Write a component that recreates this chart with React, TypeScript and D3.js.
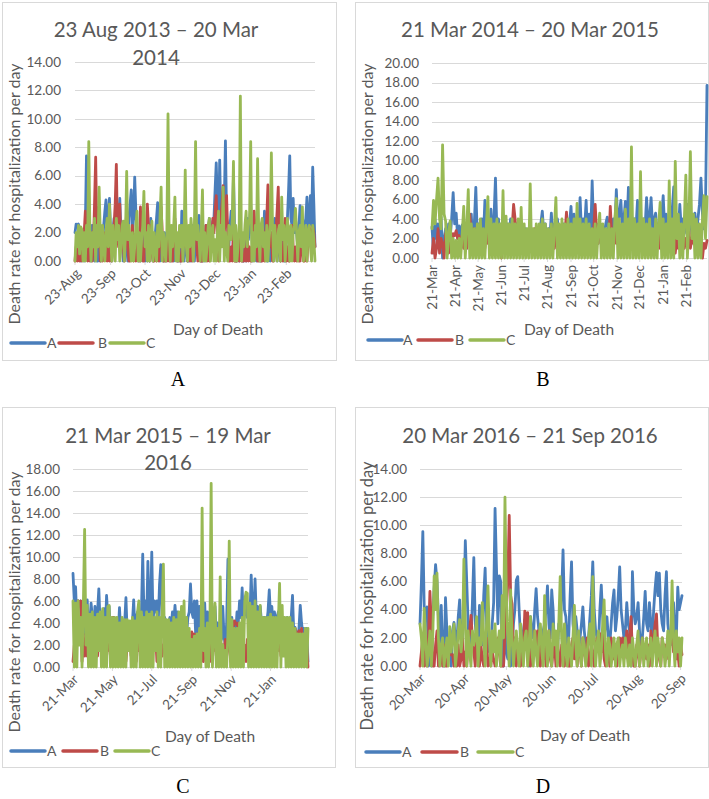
import React from "react";
import * as d3 from "d3";

const SERIES = ["A", "B", "C"];
const COLORS = ["#4A7EBB", "#BE4B48", "#98B954"];
const Y_TITLE = "Death rate for hospitalization per day";
const X_TITLE = "Day of Death";

// ---------- Panel A (daily values) ----------
const A_TITLE = ["23 Aug 2013 – 20 Mar", "2014"];
const A_DOMAIN = ["2013-08-23", "2014-03-20"];
const A_STEP_DAYS = 1;
const A_TICKS = ["2013-08-23", "2013-09-23", "2013-10-23", "2013-11-23", "2013-12-23", "2014-01-23", "2014-02-23"];
const A_YMAX = 14;
const A_BLUE = [
  2.0, 2.6, 2.4, 2.6, 2.2, 0, 2.0, 1.5, 0, 2.5,
  7.4, 3.0, 0.5, 2.5, 0, 2.5, 1.0, 0, 1.0, 0,
  0, 1.5, 0, 2.0, 1.0, 2.5, 3.5, 4.3, 2.0, 3.0,
  4.4, 2.0, 0, 2.0, 3.0, 1.0, 3.8, 2.0, 3.0, 4.4,
  2.0, 1.5, 0, 2.0, 2.8, 1.0, 0, 3.0, 4.0, 5.0,
  2.0, 3.0, 5.9, 3.5, 2.0, 0, 1.5, 0, 1.0, 2.5,
  2.5, 0, 1.0, 0, 2.0, 0, 3.0, 1.5, 0, 1.5,
  2.0, 3.0, 4.1, 2.0, 0, 2.0, 1.0, 0, 2.0, 0,
  1.0, 3.0, 1.5, 0, 1.0, 2.0, 0, 2.8, 1.0, 0,
  0, 2.0, 0, 3.5, 1.5, 0, 2.0, 1.0, 0, 0,
  1.5, 0, 2.5, 1.0, 0, 2.0, 1.0, 2.5, 3.2, 1.0,
  0, 0, 1.5, 0, 2.5, 1.0, 2.0, 3.0, 1.5, 2.0,
  2.8, 3.0, 5.0, 6.9, 4.0, 2.0, 7.1, 3.0, 2.0, 3.0,
  4.0, 8.45, 3.0, 2.5, 1.0, 2.5, 3.5, 2.0, 6.0, 2.0,
  0, 0, 1.5, 0, 2.0, 1.0, 0, 0, 1.5, 0,
  3.0, 1.5, 2.5, 3.9, 2.0, 0, 1.0, 2.0, 0, 2.5,
  1.0, 0, 0, 2.0, 1.0, 3.5, 1.5, 0, 0, 1.5,
  0, 2.0, 1.0, 2.5, 3.0, 1.5, 0, 1.0, 2.0, 0,
  2.5, 1.0, 0, 0, 1.5, 3.0, 5.0, 7.4, 3.0, 2.5,
  4.4, 2.0, 3.0, 2.0, 1.0, 2.5, 3.9, 2.0, 1.5, 2.0,
  2.5, 3.0, 4.5, 2.0, 3.0, 4.6, 2.5, 6.6, 4.0, 1.0,
];
const A_RED = [
  0, 1.0, 0, 1.5, 0, 2.0, 0, 1.0, 2.0, 3.5,
  1.0, 0, 3.5, 0, 2.0, 0, 1.0, 4.0, 7.3, 2.0,
  1.0, 3.8, 0, 1.0, 0, 2.0, 1.0, 2.0, 0, 1.0,
  0, 1.5, 0, 1.5, 2.5, 4.0, 6.8, 2.0, 1.0, 4.0,
  1.0, 2.0, 1.0, 0, 2.0, 3.5, 1.0, 0, 0, 1.5,
  2.5, 0, 1.0, 0, 1.0, 2.0, 0, 3.8, 1.0, 0,
  0, 2.0, 1.0, 4.0, 2.5, 0, 2.5, 1.0, 0, 0,
  1.5, 0, 2.0, 0, 1.5, 3.8, 2.0, 0, 0, 1.0,
  0, 2.5, 0, 1.0, 0, 0, 2.0, 3.0, 1.0, 0,
  1.5, 0, 0, 0, 2.0, 1.0, 3.5, 2.0, 0, 2.0,
  0, 1.0, 0, 1.5, 2.0, 3.2, 1.0, 0, 1.0, 0,
  0, 0, 2.0, 1.0, 2.5, 0, 1.0, 0, 2.0, 1.0,
  3.0, 2.0, 3.5, 4.6, 2.0, 0, 1.0, 3.0, 4.0, 5.3,
  2.0, 3.0, 4.6, 2.0, 0, 0, 1.0, 0, 2.5, 0,
  0, 0, 1.0, 0, 3.0, 0, 0, 0, 1.0, 0,
  2.0, 0, 1.0, 0, 0, 1.0, 3.5, 2.0, 1.0, 0,
  0, 1.0, 0, 0, 2.0, 0, 2.0, 3.0, 5.35, 2.0,
  1.0, 2.0, 0, 0, 1.0, 2.0, 3.5, 5.2, 1.0, 0,
  1.0, 0, 2.0, 3.0, 0, 1.0, 0, 0, 2.0, 2.5,
  1.0, 0, 1.0, 0, 1.5, 0, 0, 1.0, 2.0, 0,
  0, 1.0, 0, 1.5, 2.4, 2.0, 1.0, 2.4, 2.0, 1.0,
];
const A_GREEN = [
  0, 2.0, 1.0, 2.5, 0.5, 2.4, 2.2, 0, 2.0, 0,
  2.5, 1.0, 8.4, 2.0, 0, 2.0, 1.0, 3.0, 0, 2.5,
  1.0, 5.2, 2.0, 0, 2.5, 1.0, 0, 2.0, 3.0, 1.0,
  4.0, 2.0, 0, 2.5, 1.0, 0, 3.0, 1.5, 2.5, 0,
  1.0, 2.5, 2.8, 0, 2.0, 6.3, 1.5, 2.5, 1.5, 0,
  2.0, 0, 1.0, 2.5, 3.5, 0, 2.0, 0, 1.5, 2.5,
  4.9, 1.0, 2.0, 0, 2.5, 0, 1.5, 2.8, 0, 2.0,
  1.0, 0, 2.5, 1.0, 3.0, 5.2, 0, 2.0, 1.0, 0,
  2.0, 10.35, 2.0, 0, 2.5, 1.0, 2.5, 4.5, 0, 2.0,
  0, 2.5, 1.0, 2.5, 0, 2.0, 6.4, 1.0, 0, 2.5,
  1.0, 3.0, 2.0, 0, 2.5, 8.4, 1.5, 2.5, 1.5, 0,
  2.0, 5.0, 0, 2.0, 0, 1.0, 2.5, 3.0, 0, 2.0,
  2.5, 0, 1.5, 0, 2.0, 3.5, 0, 2.5, 1.0, 5.2,
  0, 2.0, 1.0, 0, 2.5, 2.0, 1.5, 3.0, 7.0, 0,
  2.5, 0, 1.0, 2.5, 11.6, 0, 2.0, 1.0, 2.5, 3.5,
  1.0, 2.5, 3.0, 8.4, 0, 2.0, 0, 2.5, 1.0, 7.2,
  2.0, 0, 2.5, 3.0, 1.0, 2.0, 0, 2.5, 0, 1.5,
  2.5, 7.6, 2.5, 0, 2.5, 1.0, 0, 2.0, 2.5, 0,
  4.5, 1.5, 2.5, 0, 1.5, 3.0, 2.0, 0, 2.5, 0,
  2.0, 2.5, 3.7, 2.0, 0, 2.0, 2.5, 1.0, 3.8, 0,
  1.0, 2.5, 0, 2.0, 2.5, 1.0, 0, 2.5, 1.5, 0,
];

// ---------- Panel B (every 2nd day) ----------
const B_TITLE = ["21 Mar 2014 – 20 Mar 2015"];
const B_DOMAIN = ["2014-03-21", "2015-03-20"];
const B_STEP_DAYS = 2;
const B_TICKS = ["2014-03-21", "2014-04-21", "2014-05-21", "2014-06-21", "2014-07-21", "2014-08-21", "2014-09-21", "2014-10-21", "2014-11-21", "2014-12-21", "2015-01-21", "2015-02-21"];
const B_YMAX = 20;
const B_BLUE = [
  3.2, 0.5, 4.0, 2.0, 3.5, 1.0, 4.2, 0, 2.0, 3.0,
  1.0, 3.5, 2.0, 4.0, 6.7, 3.5, 4.6, 2.0, 3.3, 1.5,
  3.4, 2.0, 3.0, 1.0, 3.5, 2.0, 4.5, 1.0, 3.5, 7.25,
  2.0, 3.5, 1.0, 4.0, 2.0, 5.9, 3.0, 4.0, 1.5, 5.0,
  2.0, 4.0, 8.2, 2.5, 4.0, 1.0, 3.5, 2.0, 4.0, 1.5,
  3.5, 2.0, 4.0, 1.0, 3.0, 2.0, 3.5, 1.0, 3.0, 2.0,
  2.5, 1.0, 3.0, 1.5, 2.5, 1.0, 2.0, 2.6, 1.5, 2.5,
  3.0, 2.0, 3.5, 4.8, 2.5, 3.5, 1.0, 3.0, 2.0, 4.6,
  2.0, 3.5, 1.5, 4.0, 2.0, 3.0, 1.0, 3.5, 2.0, 3.0,
  1.5, 3.5, 5.3, 2.0, 4.5, 3.0, 4.0, 2.5, 6.2, 2.5,
  4.0, 3.0, 5.9, 2.0, 4.5, 2.0, 7.9, 3.0, 2.0, 3.5,
  1.5, 3.2, 2.0, 3.0, 2.5, 3.5, 4.2, 2.5, 3.5, 2.0,
  4.0, 3.0, 7.0, 3.5, 4.5, 5.9, 3.0, 4.0, 5.8, 3.0,
  7.25, 3.0, 4.5, 2.5, 4.0, 3.0, 5.9, 3.0, 4.5, 2.5,
  4.0, 3.0, 6.2, 3.5, 4.0, 6.2, 3.0, 4.0, 4.6, 2.5,
  3.5, 2.5, 4.0, 6.4, 3.0, 4.5, 2.5, 4.0, 3.0, 5.0,
  7.3, 3.0, 4.0, 2.5, 5.5, 3.0, 4.0, 2.5, 3.5, 5.5,
  3.0, 4.0, 2.5, 3.5, 4.6, 2.5, 4.0, 5.5, 8.2, 4.5,
  3.0, 5.0, 17.7,
];
const B_RED = [
  0.5, 2.0, 0, 1.0, 3.0, 0.5, 2.0, 1.5, 0, 2.5,
  1.5, 0.5, 2.0, 1.0, 2.5, 2.3, 2.8, 2.0, 2.3, 1.0,
  2.2, 1.0, 2.0, 1.0, 3.5, 4.5, 2.0, 1.0, 3.0, 1.0,
  2.0, 1.0, 3.5, 0.5, 2.0, 1.0, 2.8, 1.5, 2.0, 1.0,
  2.5, 1.0, 2.0, 0.5, 3.0, 1.0, 0, 2.0, 1.5, 0.5,
  2.5, 1.0, 2.0, 3.0, 5.5, 4.0, 2.0, 1.0, 3.0, 1.0,
  2.5, 1.5, 2.0, 1.0, 2.5, 1.0, 2.0, 1.5, 3.0, 1.0,
  2.0, 1.5, 2.5, 1.0, 3.0, 2.0, 1.5, 2.5, 1.0, 3.0,
  2.0, 1.0, 2.5, 1.5, 3.0, 1.0, 2.0, 1.5, 2.5, 4.7,
  2.0, 1.0, 3.0, 1.5, 2.5, 1.0, 2.0, 3.0, 1.0, 2.5,
  2.0, 1.5, 3.0, 1.0, 2.5, 1.5, 2.0, 3.0, 5.5, 2.5,
  1.5, 3.0, 2.0, 1.0, 2.5, 1.0, 2.0, 1.5, 5.3, 2.0,
  1.0, 3.0, 1.5, 2.0, 2.5, 1.0, 3.0, 2.0, 2.5, 1.5,
  2.0, 1.0, 3.0, 1.5, 2.5, 1.0, 2.0, 2.5, 3.0, 1.0,
  2.0, 1.5, 2.5, 1.0, 3.0, 2.0, 2.5, 1.5, 2.5, 1.0,
  2.5, 1.0, 2.8, 1.5, 2.5, 1.0, 3.0, 1.5, 2.0, 1.0,
  2.5, 0.5, 2.0, 1.0, 3.2, 1.5, 2.5, 1.0, 2.0, 1.5,
  3.0, 1.0, 2.0, 1.5, 2.5, 1.0, 2.0, 1.5, 2.5, 0,
  1.5, 1.0, 1.8,
];
const B_GREEN = [
  3.0, 5.9, 3.5, 6.0, 8.2, 4.0, 3.0, 11.6, 4.5, 3.8,
  0, 2.5, 3.8, 0, 2.0, 0, 1.8, 0, 2.0, 0,
  2.5, 5.3, 0, 3.0, 7.0, 0, 3.5, 0, 3.0, 0,
  3.5, 0, 4.0, 0, 3.0, 0, 3.5, 6.3, 0, 4.0,
  0, 3.5, 0, 4.0, 0, 3.5, 0, 6.9, 0, 4.3,
  0, 3.5, 0, 4.0, 0, 3.5, 0, 4.0, 0, 5.2,
  0, 3.5, 0, 3.0, 0, 7.6, 0, 3.0, 0, 3.5,
  0, 3.5, 0, 4.0, 0, 3.5, 0, 3.0, 0, 3.5,
  0, 3.0, 6.2, 0, 3.5, 0, 4.0, 0, 3.5, 0,
  4.0, 0, 3.5, 0, 4.0, 0, 5.6, 0, 4.0, 0,
  3.5, 0, 4.0, 0, 3.5, 0, 3.0, 0, 3.5, 0,
  3.0, 4.6, 0, 3.5, 0, 3.0, 0, 3.5, 0, 3.0,
  0, 4.0, 6.1, 0, 4.0, 0, 3.5, 0, 5.0, 0,
  4.0, 0, 11.4, 0, 4.0, 0, 3.5, 0, 8.85, 0,
  4.0, 0, 3.5, 0, 4.0, 0, 3.0, 0, 4.0, 0,
  3.5, 5.7, 0, 4.0, 0, 3.5, 0, 7.9, 0, 4.0,
  0, 9.9, 2.0, 4.5, 0, 3.5, 0, 4.0, 8.5, 0,
  3.5, 10.9, 2.0, 4.5, 0, 4.0, 0, 3.5, 0, 4.0,
  6.4, 2.0, 6.3,
];

// ---------- Panel C (every 2nd day) ----------
const C_TITLE = ["21 Mar 2015 – 19 Mar", "2016"];
const C_DOMAIN = ["2015-03-21", "2016-03-19"];
const C_STEP_DAYS = 2;
const C_TICKS = ["2015-03-21", "2015-05-21", "2015-07-21", "2015-09-21", "2015-11-21", "2016-01-21"];
const C_YMAX = 18;
const C_BLUE = [
  8.5, 6.0, 7.3, 4.0, 6.0, 5.5, 6.0, 2.0, 4.5, 3.0,
  4.0, 6.1, 3.0, 4.0, 5.8, 4.5, 3.0, 5.5, 3.5, 5.0,
  7.1, 4.0, 5.0, 3.0, 5.3, 3.0, 6.5, 4.5, 5.5, 2.5,
  4.0, 3.0, 4.5, 2.5, 4.0, 3.0, 5.4, 3.0, 2.7, 3.0,
  4.0, 6.3, 3.0, 2.7, 4.0, 2.7, 4.0, 6.1, 3.0, 4.5,
  5.0, 4.0, 4.5, 5.0, 10.25, 4.5, 6.0, 4.0, 9.6, 5.0,
  4.5, 10.45, 4.0, 6.0, 5.0, 6.0, 4.0, 7.5, 9.3, 4.0,
  3.0, 4.5, 4.0, 3.5, 4.0, 4.5, 3.5, 5.0, 4.0, 5.6,
  4.0, 5.0, 3.5, 4.5, 3.0, 5.0, 3.0, 4.0, 3.0, 4.5,
  5.0, 7.55, 5.0, 4.5, 6.0, 3.0, 6.0, 3.0, 5.5, 2.5,
  4.0, 2.5, 5.8, 2.5, 5.0, 3.0, 5.0, 3.0, 4.5, 2.5,
  5.5, 3.0, 4.0, 2.5, 3.5, 2.5, 5.5, 2.7, 2.0, 4.0,
  9.8, 5.0, 2.5, 4.5, 3.0, 4.0, 3.0, 5.0, 4.0, 6.0,
  4.5, 7.2, 4.0, 5.0, 6.5, 4.5, 5.0, 4.5, 8.35, 5.0,
  4.5, 8.0, 4.5, 5.5, 4.0, 5.5, 4.0, 3.2, 4.5, 3.5,
  4.0, 5.0, 7.0, 4.5, 5.5, 3.5, 5.0, 4.0, 4.5, 5.0,
  4.0, 5.0, 3.5, 4.5, 3.5, 3.5, 4.5, 4.0, 3.0, 4.5,
  6.5, 3.0, 3.6, 3.0, 2.5, 3.5, 5.6, 4.0, 3.0, 3.5,
  3.0, 3.5, 0.5,
];
const C_RED = [
  0.5, 2.0, 1.0, 3.0, 6.0, 5.8, 6.0, 0.5, 3.0, 1.0,
  2.0, 1.0, 2.5, 1.5, 3.0, 0.5, 2.0, 1.0, 2.5, 1.0,
  3.0, 2.0, 1.5, 0.5, 2.5, 1.0, 3.0, 1.5, 2.0, 1.0,
  2.0, 4.5, 3.0, 0.5, 2.0, 1.5, 2.5, 1.0, 2.0, 1.5,
  3.0, 0.5, 2.0, 1.5, 2.5, 1.0, 2.0, 1.5, 3.0, 0.5,
  2.0, 1.5, 2.5, 1.0, 2.0, 1.5, 3.0, 0.5, 2.0, 1.5,
  2.5, 1.0, 2.0, 1.5, 3.0, 0.5, 2.0, 1.5, 2.5, 1.0,
  2.0, 1.5, 3.0, 0.5, 2.0, 1.5, 2.5, 1.0, 2.0, 1.5,
  3.0, 0.5, 2.0, 1.5, 2.5, 1.0, 2.0, 1.5, 3.0, 1.0,
  2.0, 1.5, 3.2, 2.5, 3.0, 2.8, 3.0, 2.2, 1.0, 2.0,
  1.5, 0.5, 2.5, 1.5, 2.0, 1.0, 2.5, 0.5, 2.0, 1.5,
  2.5, 1.0, 2.0, 1.5, 2.5, 0.5, 2.0, 1.5, 2.5, 1.0,
  2.0, 3.0, 0.5, 2.0, 3.5, 4.2, 4.0, 3.8, 4.0, 2.0,
  1.0, 2.5, 1.5, 2.0, 0.5, 2.5, 1.0, 2.0, 3.0, 0.5,
  2.0, 1.5, 2.5, 1.0, 2.0, 3.0, 0.5, 2.0, 1.5, 2.5,
  1.0, 2.0, 3.0, 0.5, 2.0, 1.5, 2.5, 1.0, 2.0, 1.5,
  2.5, 1.0, 2.0, 3.0, 3.7, 3.0, 3.6, 2.8, 3.4, 3.0,
  3.2, 2.9, 3.5, 2.5, 3.0, 3.3, 2.5, 3.5, 2.0, 2.5,
  3.0, 2.0, 0,
];
const C_GREEN = [
  6.0, 0, 5.8, 0, 6.0, 2.0, 4.5, 0, 5.5, 12.5,
  2.0, 5.6, 0, 4.8, 0, 5.0, 0, 4.5, 0, 4.8,
  1.5, 5.0, 0, 5.3, 0, 4.5, 0, 5.5, 5.6, 0,
  4.5, 0, 4.5, 0, 4.5, 0, 4.0, 0, 4.5, 0,
  4.3, 0, 4.3, 1.5, 4.2, 0, 4.5, 0, 4.2, 0,
  5.0, 6.0, 0, 5.0, 0, 4.5, 0, 5.0, 0, 4.8,
  0, 5.0, 0, 4.5, 1.5, 5.0, 0, 4.5, 0, 5.0,
  9.35, 0, 4.3, 0, 4.3, 0, 4.0, 0, 4.5, 0,
  4.3, 0, 5.0, 0, 5.5, 0, 6.0, 0, 4.5, 0,
  3.5, 0, 2.5, 0, 2.8, 0, 3.0, 0, 3.5, 0,
  14.45, 1.5, 3.5, 0, 4.0, 0, 3.0, 16.7, 0, 3.5,
  5.8, 0, 3.5, 0, 8.2, 0, 2.0, 0, 1.5, 0,
  3.0, 11.45, 0, 4.3, 0, 3.5, 0, 3.5, 0, 4.0,
  0, 4.5, 0, 6.0, 6.8, 6.7, 0, 5.8, 0, 5.5,
  0, 6.0, 0, 5.0, 0, 5.6, 0, 4.5, 0, 4.5,
  0, 4.5, 0, 4.8, 0, 4.5, 0, 4.5, 0, 4.0,
  7.6, 0, 5.6, 1.0, 4.5, 0, 4.5, 0, 4.5, 0,
  4.0, 0, 3.5, 0, 3.0, 0, 3.0, 0, 3.0, 0,
  3.5, 0, 3.5,
];

// ---------- Panel D (daily values) ----------
const D_TITLE = ["20 Mar 2016 – 21 Sep 2016"];
const D_DOMAIN = ["2016-03-20", "2016-09-21"];
const D_STEP_DAYS = 1;
const D_TICKS = ["2016-03-20", "2016-04-20", "2016-05-20", "2016-06-20", "2016-07-20", "2016-08-20", "2016-09-20"];
const D_YMAX = 14;
const D_BLUE = [
  3.0, 6.0, 9.55, 4.0, 3.3, 4.2, 0, 2.0, 0, 3.5,
  5.5, 7.2, 6.0, 3.5, 0, 4.3, 1.0, 0, 4.85, 2.5,
  1.0, 2.0, 0, 2.5, 3.1, 2.0, 1.5, 3.5, 4.7, 2.0,
  2.0, 4.0, 8.9, 6.0, 3.0, 1.0, 2.0, 4.5, 7.7, 3.0,
  2.0, 1.5, 4.3, 2.0, 1.5, 5.0, 6.95, 3.0, 2.0, 1.0,
  1.0, 3.0, 4.5, 11.2, 7.0, 3.0, 6.4, 6.0, 1.0, 0,
  3.0, 1.0, 0.5, 2.0, 0, 1.5, 3.0, 4.0, 6.1, 6.35,
  4.0, 2.0, 1.5, 2.5, 3.3, 2.0, 1.0, 0, 3.5, 2.5,
  2.0, 4.0, 5.5, 3.5, 2.5, 1.5, 1.0, 2.5, 3.0, 4.0,
  5.7, 3.0, 2.0, 5.4, 4.0, 1.0, 2.0, 1.0, 3.0, 2.5,
  5.0, 8.25, 4.0, 3.5, 1.5, 2.0, 5.0, 7.4, 3.0, 2.0,
  3.5, 2.5, 1.0, 2.0, 3.0, 4.2, 2.5, 1.5, 1.0, 2.0,
  3.5, 5.0, 7.4, 4.0, 2.5, 2.0, 1.5, 4.0, 5.75, 3.5,
  2.0, 3.0, 3.5, 2.0, 1.5, 3.0, 4.5, 5.4, 2.5, 3.5,
  5.0, 7.05, 4.0, 3.0, 2.0, 2.5, 4.5, 3.0, 2.5, 0,
  6.7, 4.0, 3.0, 3.5, 4.5, 2.5, 1.0, 2.0, 3.5, 5.3,
  3.0, 2.5, 4.5, 3.0, 2.0, 4.0, 5.5, 6.65, 5.0, 6.6,
  4.0, 3.0, 2.5, 5.0, 6.7, 3.0, 2.0, 1.5, 3.0, 4.5,
  2.5, 2.0, 5.6, 4.0, 4.5, 5.0,
];
const D_RED = [
  0, 1.0, 2.0, 0, 1.0, 0, 2.0, 5.3, 3.0, 0,
  0, 1.5, 2.5, 0, 0.5, 1.0, 0, 1.5, 0, 0,
  0.8, 0.8, 0.8, 0.8, 0, 1.0, 0, 1.5, 0, 0.5,
  2.0, 0, 1.0, 0, 1.5, 2.5, 3.6, 2.0, 1.0, 0,
  2.0, 1.0, 0, 1.5, 0.5, 0, 1.0, 2.0, 0, 0.5,
  0, 1.0, 0.5, 0, 0.5, 2.0, 1.0, 0, 0, 0,
  2.5, 4.0, 6.0, 10.7, 5.0, 4.4, 1.0, 2.0, 0, 1.5,
  1.5, 0, 2.0, 1.0, 3.9, 2.0, 3.8, 1.5, 0, 1.0,
  0.5, 2.5, 1.0, 2.5, 1.0, 0, 2.0, 0.5, 1.5, 0,
  1.5, 2.5, 0.5, 0, 1.0, 1.5, 0, 2.0, 0.5, 0,
  1.5, 1.0, 0, 1.5, 1.0, 0, 0, 1.5, 2.0, 0.5,
  2.0, 0, 1.5, 1.0, 0, 2.0, 1.0, 0.5, 2.0, 0,
  0.5, 1.5, 1.0, 0, 1.5, 2.0, 1.0, 2.3, 1.0, 2.5,
  0.5, 0, 1.5, 1.0, 0, 2.0, 1.0, 0.5, 1.5, 0,
  1.5, 2.0, 1.0, 2.0, 0.5, 1.0, 2.5, 1.0, 2.0, 3.5,
  1.0, 0, 0, 1.5, 1.0, 0, 1.0, 2.0, 0.5, 1.0,
  0.5, 1.5, 0, 2.5, 1.0, 2.0, 3.0, 3.7, 1.0, 0.5,
  0, 2.0, 1.0, 1.5, 0.5, 2.0, 1.0, 2.0, 3.0, 1.0,
  2.0, 0.5, 1.0, 0, 1.5, 0.8,
];
const D_GREEN = [
  3.0, 2.0, 0, 4.1, 2.0, 0, 1.0, 2.5, 0, 2.0,
  6.4, 4.0, 6.6, 2.0, 0, 1.5, 2.0, 0, 1.0, 2.0,
  0, 2.8, 1.0, 2.0, 3.0, 0, 1.0, 2.5, 3.3, 1.0,
  2.0, 7.6, 3.0, 0, 2.5, 1.0, 0, 2.5, 1.5, 2.0,
  3.5, 0, 2.0, 1.5, 4.5, 2.0, 0, 3.0, 5.7, 2.0,
  0, 2.5, 1.0, 3.0, 0, 1.5, 2.5, 0, 5.0, 2.0,
  12.0, 5.0, 2.0, 0, 5.4, 2.0, 0, 1.5, 2.5, 1.0,
  0, 3.0, 1.5, 0, 2.0, 2.5, 0, 1.5, 3.5, 1.0,
  0, 2.5, 1.0, 0, 2.0, 3.0, 1.0, 0, 5.0, 2.0,
  0, 2.5, 1.0, 0, 3.0, 1.5, 2.5, 0, 3.0, 6.35,
  2.0, 0, 3.0, 1.0, 0, 2.0, 1.0, 0, 2.0, 4.3,
  1.5, 0, 2.5, 1.0, 0, 2.0, 1.5, 0, 1.0, 2.0,
  3.0, 0, 6.35, 2.0, 0, 1.5, 2.5, 0, 1.0, 3.0,
  4.7, 1.0, 0, 2.0, 1.5, 0, 1.0, 2.0, 0, 1.5,
  2.0, 0, 1.0, 1.5, 0, 2.0, 1.0, 0, 1.5, 0,
  2.0, 1.0, 0, 1.5, 2.5, 0, 1.0, 2.0, 0, 1.5,
  2.0, 0, 1.0, 2.0, 0, 1.5, 2.5, 0, 2.0, 1.0,
  0, 2.0, 1.5, 0, 1.0, 2.5, 0, 2.0, 6.05, 2.0,
  0, 2.5, 1.0, 2.0, 0, 2.0,
];

const SANS = "Lato, 'Open Sans', sans-serif";
const GREY = "#595959";
const GRID = "#D9D9D9";

type PanelCfg = {
  title: string[];
  domain: string[];
  step: number;
  ticks: string[];
  yMax: number;
  series: number[][];
  caption: string;
  box: [number, number, number, number];
  plot: { left: number; right: number; top: number; bottom: number };
  titleX: number;
  titleY: number[];
  rotate: number;
  yLabelEnd: number;
  yTitle: [number, number, number];
  xTitle: [number, number];
  legendY: number;
  legend: [number, number, number][];
  captionPos: [number, number];
  stroke: number;
};

const PANELS: PanelCfg[] = [
  {
    title: A_TITLE, domain: A_DOMAIN, step: A_STEP_DAYS, ticks: A_TICKS, yMax: A_YMAX,
    series: [A_BLUE, A_RED, A_GREEN], caption: "A",
    box: [2, 2, 336, 360], plot: { left: 75, right: 315, top: 62, bottom: 261 },
    titleX: 156, titleY: [37, 65], rotate: -45, yLabelEnd: 61, yTitle: [20, 194, 16], xTitle: [218, 335],
    legendY: 343, legend: [[11, 45, 47], [59, 93, 98], [110, 144, 146]], captionPos: [178, 386], stroke: 2.8,
  },
  {
    title: B_TITLE, domain: B_DOMAIN, step: B_STEP_DAYS, ticks: B_TICKS, yMax: B_YMAX,
    series: [B_BLUE, B_RED, B_GREEN], caption: "B",
    box: [355, 2, 708, 360], plot: { left: 432, right: 707, top: 63, bottom: 258 },
    titleX: 530, titleY: [37], rotate: -90, yLabelEnd: 419, yTitle: [373, 194, 16], xTitle: [569, 335],
    legendY: 340, legend: [[368, 402, 403], [418, 452, 455], [470, 504, 506]], captionPos: [543, 386], stroke: 2.8,
  },
  {
    title: C_TITLE, domain: C_DOMAIN, step: C_STEP_DAYS, ticks: C_TICKS, yMax: C_YMAX,
    series: [C_BLUE, C_RED, C_GREEN], caption: "C",
    box: [2, 407, 335, 767], plot: { left: 73, right: 308, top: 469, bottom: 667 },
    titleX: 168, titleY: [443, 470], rotate: -45, yLabelEnd: 60, yTitle: [20, 602, 16], xTitle: [210, 742],
    legendY: 751, legend: [[11, 45, 47], [63, 97, 100], [115, 149, 151]], captionPos: [183, 793], stroke: 2.8,
  },
  {
    title: D_TITLE, domain: D_DOMAIN, step: D_STEP_DAYS, ticks: D_TICKS, yMax: D_YMAX,
    series: [D_BLUE, D_RED, D_GREEN], caption: "D",
    box: [355, 407, 708, 767], plot: { left: 420, right: 682, top: 469, bottom: 666 },
    titleX: 530, titleY: [443], rotate: -45, yLabelEnd: 407, yTitle: [373, 596, 16.5], xTitle: [585, 741],
    legendY: 752, legend: [[366, 400, 402], [422, 457, 460], [478, 513, 515]], captionPos: [543, 793], stroke: 2.8,
  },
];

const parse = d3.timeParse("%Y-%m-%d");
const fmtDate = d3.timeFormat("%d-%b");
const fmtY = d3.format(".2f");

function Panel({ p }: { p: PanelCfg }) {
  const d0 = parse(p.domain[0]) as Date;
  const d1 = parse(p.domain[1]) as Date;
  const x = d3.scaleTime().domain([d0, d1]).range([p.plot.left, p.plot.right]);
  const y = d3.scaleLinear().domain([0, p.yMax]).range([p.plot.bottom, p.plot.top]);
  const yTicks = d3.range(0, p.yMax + 0.001, 2);
  const tickDates = p.ticks.map((t) => parse(t) as Date);
  const line = d3
    .line<number>()
    .x((_, i) => x(d3.timeDay.offset(d0, i * p.step)))
    .y((v) => y(v));
  const [bx0, by0, bx1, by1] = p.box;
  return (
    <g>
      <rect x={bx0 + 0.5} y={by0 + 0.5} width={bx1 - bx0} height={by1 - by0} fill="#fff" stroke={GRID} />
      {yTicks.map((t) => (
        <g key={"g" + t}>
          {t > 0 && (
            <line x1={p.plot.left} x2={p.plot.right} y1={Math.round(y(t)) + 0.5} y2={Math.round(y(t)) + 0.5} stroke={GRID} strokeWidth={1} />
          )}
          <text x={p.yLabelEnd} y={y(t)} dy="0.35em" textAnchor="end" fontSize={13.5} fill={GREY} fontFamily={SANS}>
            {fmtY(t)}
          </text>
        </g>
      ))}
      <line x1={p.plot.left} x2={p.plot.right} y1={p.plot.bottom + 0.5} y2={p.plot.bottom + 0.5} stroke={GRID} />
      {tickDates.map((d, i) => (
        <line key={"t" + i} x1={x(d)} x2={x(d)} y1={p.plot.bottom} y2={p.plot.bottom + 4} stroke={GRID} />
      ))}
      {p.series.map((s, k) => (
        <path key={"s" + k} d={line(s) || ""} fill="none" stroke={COLORS[k]} strokeWidth={p.stroke} strokeLinejoin="round" strokeLinecap="round" />
      ))}
      {tickDates.map((d, i) =>
        p.rotate === -90 ? (
          <text key={"l" + i} transform={`translate(${x(d)},${p.plot.bottom + 7}) rotate(-90)`} dy="0.35em" textAnchor="end" fontSize={13.5} fill={GREY} fontFamily={SANS}>
            {fmtDate(d)}
          </text>
        ) : (
          <text key={"l" + i} transform={`translate(${x(d) + 3},${p.plot.bottom + 10}) rotate(-45)`} dy="0.35em" textAnchor="end" fontSize={13.5} fill={GREY} fontFamily={SANS}>
            {fmtDate(d)}
          </text>
        )
      )}
      {p.title.map((t, i) => (
        <text key={"ti" + i} x={p.titleX} y={p.titleY[i]} textAnchor="middle" fontSize={20.5} fill={GREY} fontFamily={SANS}>
          {t}
        </text>
      ))}
      <text transform={`translate(${p.yTitle[0]},${p.yTitle[1]}) rotate(-90)`} textAnchor="middle" fontSize={p.yTitle[2]} fill={GREY} fontFamily={SANS}>
        {Y_TITLE}
      </text>
      <text x={p.xTitle[0]} y={p.xTitle[1]} textAnchor="middle" fontSize={15.5} fill={GREY} fontFamily={SANS}>
        {X_TITLE}
      </text>
      {SERIES.map((name, k) => (
        <g key={"lg" + k}>
          <line x1={p.legend[k][0]} x2={p.legend[k][1]} y1={p.legendY} y2={p.legendY} stroke={COLORS[k]} strokeWidth={3.5} strokeLinecap="round" />
          <text x={p.legend[k][2]} y={p.legendY} dy="0.35em" fontSize={14} fill={GREY} fontFamily={SANS}>
            {name}
          </text>
        </g>
      ))}
      <text x={p.captionPos[0]} y={p.captionPos[1]} textAnchor="middle" fontSize={20} fill="#000" fontFamily="'Liberation Serif', 'Times New Roman', serif">
        {p.caption}
      </text>
    </g>
  );
}

export default function App() {
  return (
    <svg width={709} height={799} style={{ position: "absolute", left: 0, top: 0, background: "#fff" }}>
      <rect x={0} y={0} width={709} height={799} fill="#fff" />
      {PANELS.map((p, i) => (
        <Panel key={i} p={p} />
      ))}
    </svg>
  );
}
